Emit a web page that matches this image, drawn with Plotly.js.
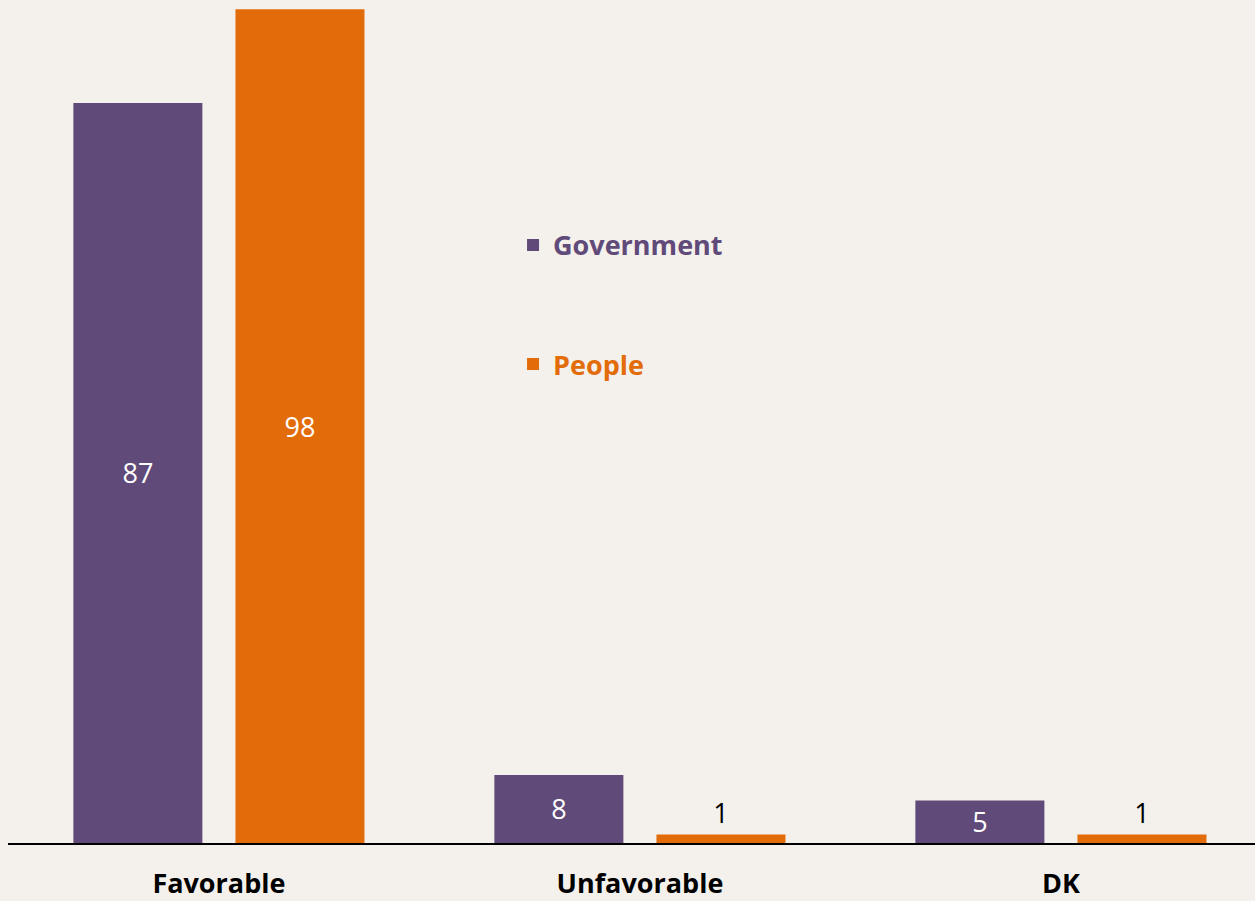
<!DOCTYPE html>
<html>
<head>
<meta charset="utf-8">
<script src="https://cdn.plot.ly/plotly-3.0.1.min.js"></script>
<style>html,body{margin:0;padding:0;background:#f4f1ec;overflow:hidden;}</style>
</head>
<body>
<div id="chart" style="width:1255px;height:901px;"></div>
<script>
const categories = ["Favorable", "Unfavorable", "DK"];
const government = [87, 8, 5];
const people = [98, 1, 1];
const seriesNames = ["Government", "People"];

const purple = "#5f4a79";
const orange = "#e36c0a";
const fontFamily = "'Open Sans', 'Liberation Sans', sans-serif";

const traces = [
  {
    type: "bar",
    x: categories,
    y: government,
    name: '<span style="color:' + purple + '"><b>' + seriesNames[0] + '</b></span>',
    legendgroup: "g1",
    marker: {color: purple, line: {width: 0}},
    text: government.map(String),
    textposition: "inside",
    insidetextanchor: "middle",
    textangle: 0,
    constraintext: "none",
    textfont: {family: fontFamily, size: 27, color: "#ffffff"},
    hoverinfo: "x+y"
  },
  {
    type: "bar",
    x: categories,
    y: people,
    name: '<span style="color:' + orange + '"><b>' + seriesNames[1] + '</b></span>',
    legendgroup: "g2",
    marker: {color: orange, line: {width: 0}},
    text: people.map(String),
    textposition: people.map(v => v > 10 ? "inside" : "outside"),
    insidetextanchor: "middle",
    textangle: 0,
    constraintext: "none",
    insidetextfont: {family: fontFamily, size: 27, color: "#ffffff"},
    outsidetextfont: {family: fontFamily, size: 27, color: "#000000"},
    hoverinfo: "x+y"
  }
];

const layout = {
  width: 1255,
  height: 901,
  paper_bgcolor: "#f4f1ec",
  plot_bgcolor: "#f4f1ec",
  margin: {l: 8, r: 0, t: 0, b: 58},
  barmode: "group",
  bargap: 0.23,
  bargroupgap: 0.204,
  font: {family: fontFamily, color: "#000000"},
  showlegend: true,
  legend: {
    x: 0.405, xanchor: "left",
    y: 0.738, yanchor: "top",
    bgcolor: "rgba(0,0,0,0)",
    traceorder: "grouped",
    tracegroupgap: 81,
    font: {family: fontFamily, size: 27},
    itemclick: false
  },
  xaxis: {
    type: "category",
    range: [-0.501, 2.461],
    showline: true,
    linecolor: "#000000",
    linewidth: 2,
    ticks: "",
    showgrid: false,
    zeroline: false,
    ticklabelstandoff: 16,
    tickfont: {family: fontFamily, size: 27, color: "#000000", weight: "bold"},
    fixedrange: true
  },
  yaxis: {
    range: [0, 99.1],
    visible: false,
    showgrid: false,
    zeroline: false,
    fixedrange: true
  }
};

Plotly.newPlot("chart", traces, layout, {displayModeBar: false, responsive: false});
</script>
</body>
</html>
